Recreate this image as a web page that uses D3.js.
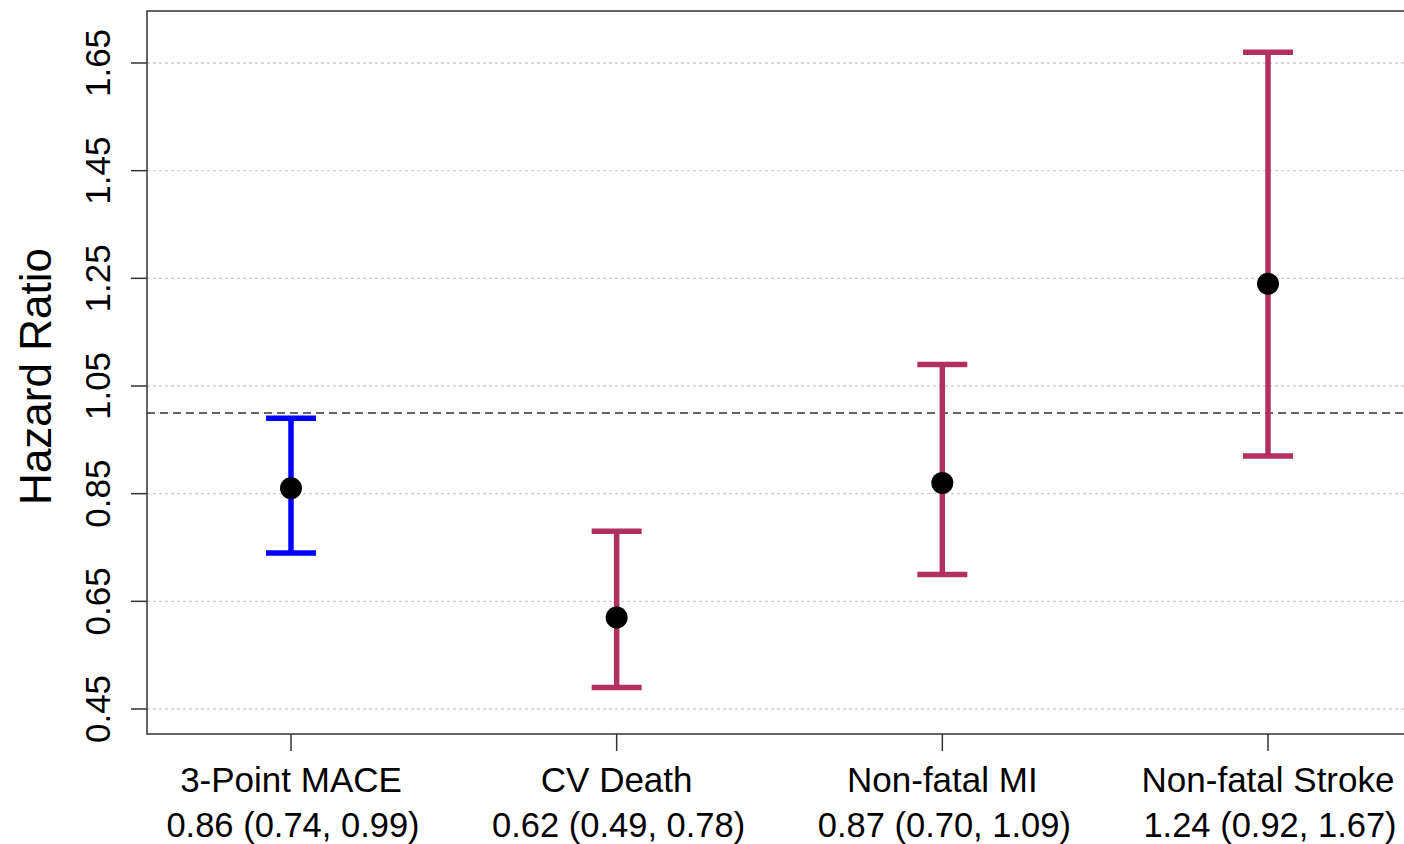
<!DOCTYPE html>
<html>
<head>
<meta charset="utf-8">
<script src="https://cdn.jsdelivr.net/npm/d3@7"></script>
<style>
  html, body { margin: 0; padding: 0; background: #fff; }
  svg { display: block; font-family: "Liberation Sans", Arial, sans-serif; }
</style>
</head>
<body>
<svg id="chart" width="1404" height="844"></svg>
<script>
// Outcomes and hazard ratios with 95% CI
const outcomes   = ["3-Point MACE", "CV Death", "Non-fatal MI", "Non-fatal Stroke"];
const hrEstimate = [0.86, 0.62, 0.87, 1.24];
const hrLower    = [0.74, 0.49, 0.70, 0.92];
const hrUpper    = [0.99, 0.78, 1.09, 1.67];
const barColors  = ["#0000FF", "#B03060", "#B03060", "#B03060"];
const yTicks     = [0.45, 0.65, 0.85, 1.05, 1.25, 1.45, 1.65];
const refValue   = 1.0;

const fmt = d3.format(".2f");
const rows = outcomes.map((name, i) => ({
  name, est: hrEstimate[i], lo: hrLower[i], hi: hrUpper[i], color: barColors[i], i
}));

const svg = d3.select("#chart");

// Plot frame
const frame = { left: 147, top: 11, bottom: 734, right: 1404 };

const y = d3.scaleLinear().domain([0.45, 1.65]).range([709, 63]);
const x = d3.scaleLinear().domain([0, outcomes.length - 1]).range([291, 1268]);

// Horizontal grid at each tick
svg.append("g")
  .selectAll("line")
  .data(yTicks)
  .join("line")
  .attr("x1", frame.left).attr("x2", frame.right)
  .attr("y1", d => y(d)).attr("y2", d => y(d))
  .attr("stroke", "#cfcfcf")
  .attr("stroke-width", 1.3)
  .attr("stroke-dasharray", "3,3");

// Reference line at HR = 1
svg.append("line")
  .attr("x1", frame.left).attr("x2", frame.right)
  .attr("y1", y(refValue)).attr("y2", y(refValue))
  .attr("stroke", "#333")
  .attr("stroke-width", 1.5)
  .attr("stroke-dasharray", "8,5");

// Frame lines (left, top, bottom)
const axisColor = "#333";
svg.append("path")
  .attr("d", `M${frame.right},${frame.top}H${frame.left}V${frame.bottom}H${frame.right}`)
  .attr("fill", "none")
  .attr("stroke", axisColor)
  .attr("stroke-width", 1.5);

// Y axis ticks and rotated labels
const yAxis = svg.append("g");
yAxis.selectAll("line")
  .data(yTicks)
  .join("line")
  .attr("x1", frame.left - 16).attr("x2", frame.left)
  .attr("y1", d => y(d)).attr("y2", d => y(d))
  .attr("stroke", axisColor)
  .attr("stroke-width", 1.5);
yAxis.selectAll("text")
  .data(yTicks)
  .join("text")
  .attr("transform", d => `translate(110,${y(d)}) rotate(-90)`)
  .attr("text-anchor", "middle")
  .attr("font-size", 35)
  .attr("fill", "#000")
  .text(d => fmt(d));

// Y axis title
svg.append("text")
  .attr("transform", `translate(51,${(frame.top + frame.bottom) / 2 + 4}) rotate(-90)`)
  .attr("text-anchor", "middle")
  .attr("font-size", 44)
  .attr("fill", "#000")
  .text("Hazard Ratio");

// X axis ticks and two-line labels
const xAxis = svg.append("g");
xAxis.selectAll("line")
  .data(rows)
  .join("line")
  .attr("x1", d => x(d.i)).attr("x2", d => x(d.i))
  .attr("y1", frame.bottom).attr("y2", frame.bottom + 17)
  .attr("stroke", axisColor)
  .attr("stroke-width", 1.5);
xAxis.selectAll("text.name")
  .data(rows)
  .join("text")
  .attr("class", "name")
  .attr("x", d => x(d.i))
  .attr("y", 792)
  .attr("text-anchor", "middle")
  .attr("font-size", 35)
  .attr("fill", "#000")
  .text(d => d.name);
xAxis.selectAll("text.ci")
  .data(rows)
  .join("text")
  .attr("class", "ci")
  .attr("x", d => x(d.i) + 2)
  .attr("y", 837)
  .attr("text-anchor", "middle")
  .attr("font-size", 34.5)
  .attr("fill", "#000")
  .text(d => `${fmt(d.est)} (${fmt(d.lo)}, ${fmt(d.hi)})`);

// Error bars
const capHalf = 25;
const bars = svg.append("g")
  .selectAll("g")
  .data(rows)
  .join("g")
  .attr("stroke", d => d.color)
  .attr("stroke-width", 5.5)
  .attr("fill", "none");
bars.append("line")
  .attr("x1", d => x(d.i)).attr("x2", d => x(d.i))
  .attr("y1", d => y(d.lo)).attr("y2", d => y(d.hi));
bars.append("line")
  .attr("x1", d => x(d.i) - capHalf).attr("x2", d => x(d.i) + capHalf)
  .attr("y1", d => y(d.hi)).attr("y2", d => y(d.hi));
bars.append("line")
  .attr("x1", d => x(d.i) - capHalf).attr("x2", d => x(d.i) + capHalf)
  .attr("y1", d => y(d.lo)).attr("y2", d => y(d.lo));

// Point estimates
svg.append("g")
  .selectAll("circle")
  .data(rows)
  .join("circle")
  .attr("cx", d => x(d.i))
  .attr("cy", d => y(d.est))
  .attr("r", 11)
  .attr("fill", "#000");
</script>
</body>
</html>
